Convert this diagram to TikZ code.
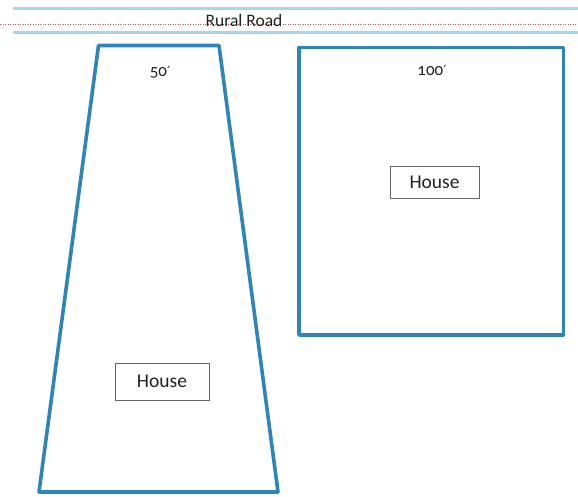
\documentclass[tikz,border=0pt]{standalone}
\usepackage{fontspec}
\setmainfont{Carlito}[Numbers=OldStyle]
\newfontfamily\primefont{DejaVu Sans}
\newcommand{\ft}{{\primefont\fontsize{14}{16}\selectfont ′}}
\definecolor{lotblue}{HTML}{2E86B8}
\definecolor{roadblue}{HTML}{A9D5E8}
\definecolor{dotred}{HTML}{C0504D}
\definecolor{txt}{HTML}{222222}
\begin{document}
\begin{tikzpicture}[x=1pt,y=-1pt,
  lot/.style={draw=lotblue,line width=3.6pt,line join=round},
  road/.style={draw=roadblue,line width=3pt},
  housebox/.style={draw=black!60,line width=0.8pt,fill=white,inner sep=0pt,text=txt,font=\fontsize{19.5}{22}\selectfont},
  lbl/.style={text=txt,inner sep=0pt,font=\fontsize{17}{20}\selectfont}]
\useasboundingbox (0,0) rectangle (578,497);
% road
\coordinate (r1a) at (13,9); \coordinate (r1b) at (578,9);
\coordinate (r2a) at (13,33); \coordinate (r2b) at (578,33);
\coordinate (da) at (0,25); \coordinate (db) at (578,25);
\draw[road] (r1a) -- (r1b);
\draw[road] (r2a) -- (r2b);
\draw[dotred,line width=1pt,dash pattern=on 1pt off 1.5pt] (da) -- (db);
\node[lbl,font=\fontsize{17.5}{20}\selectfont] (road) at (244,20) {Rural Road};
% trapezoid lot
\coordinate (t1) at (98.5,45.5);
\coordinate (t2) at (219,45.5);
\coordinate (t3) at (278,492);
\coordinate (t4) at (39,492);
\draw[lot] (t1) -- (t2) -- (t3) -- (t4) -- cycle;
% square lot
\coordinate (s1) at (299,47.5);
\coordinate (s2) at (563.5,335);
\draw[lot] (s1) rectangle (s2);
% labels
\node[lbl] (w50) at (160,72) {50\ft};
\node[lbl] (w100) at (432,70) {100\ft};
\node[housebox,minimum width=94pt,minimum height=37pt] (h1) at (162,381.5) {House};
\node[housebox,minimum width=89pt,minimum height=32pt] (h2) at (434.5,182) {House};
\end{tikzpicture}
\end{document}
